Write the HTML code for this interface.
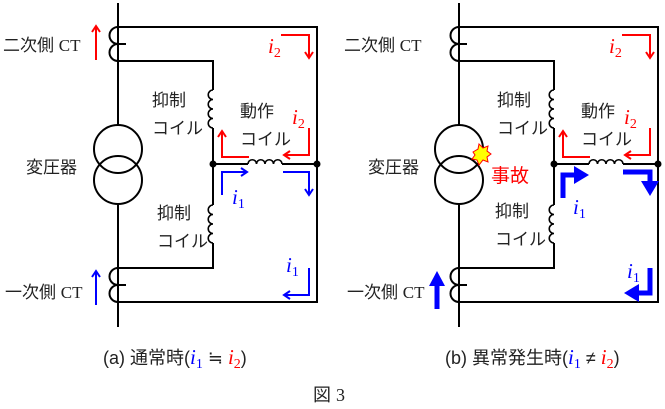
<!DOCTYPE html>
<html><head><meta charset="utf-8"><style>
html,body{margin:0;padding:0;background:#fff;width:665px;height:409px;overflow:hidden;}
svg{display:block;position:absolute;left:0;top:0;}
text{font-family:"Liberation Sans","Noto Sans CJK JP",sans-serif;font-size:17px;fill:#222;}
.i{font-family:"Liberation Serif",serif;font-style:italic;font-size:21px;}
.s{font-family:"Liberation Serif",serif;font-size:14px;font-style:normal;}
.c{font-size:18px;}
</style></head><body>
<svg width="665" height="409" viewBox="0 0 665 409" xmlns="http://www.w3.org/2000/svg">
<g fill="none" stroke="#000" stroke-width="2">
<line x1="118" y1="3" x2="118" y2="125"/>
<line x1="118" y1="203" x2="118" y2="327"/>
<circle cx="118" cy="149" r="24"/>
<circle cx="118" cy="180" r="24"/>
<path d="M118,27 H317 V302 H118"/>
<path d="M118,27 A8.5,8.5 0 0 0 118,44 A8.5,8.5 0 0 0 118,61"/>
<line x1="118" y1="44" x2="126" y2="44"/>
<path d="M118,268 A8.5,8.5 0 0 0 118,285 A8.5,8.5 0 0 0 118,302"/>
<line x1="118" y1="285" x2="126" y2="285"/>
<path d="M118,61 H213 V90 M213,128 V205 M213,243 V268 H118"/>
<path d="M213,90 a4.75,4.75 0 0 0 0,9.5 a4.75,4.75 0 0 0 0,9.5 a4.75,4.75 0 0 0 0,9.5 a4.75,4.75 0 0 0 0,9.5" stroke-width="1.6"/>
<path d="M213,205 a4.75,4.75 0 0 0 0,9.5 a4.75,4.75 0 0 0 0,9.5 a4.75,4.75 0 0 0 0,9.5 a4.75,4.75 0 0 0 0,9.5" stroke-width="1.6"/>
<path d="M213,164 H248 M282,164 H317"/>
<path d="M248,164 a4.25,4.25 0 0 1 8.5,0 a4.25,4.25 0 0 1 8.5,0 a4.25,4.25 0 0 1 8.5,0 a4.25,4.25 0 0 1 8.5,0" stroke-width="1.6"/>
<circle cx="213" cy="164" r="3.5" fill="#000" stroke="none"/>
<circle cx="317" cy="164" r="3.5" fill="#000" stroke="none"/>
</g>
<g transform="translate(341,0)" fill="none" stroke="#000" stroke-width="2">
<line x1="118" y1="3" x2="118" y2="125"/>
<line x1="118" y1="203" x2="118" y2="327"/>
<circle cx="118" cy="149" r="24"/>
<circle cx="118" cy="180" r="24"/>
<path d="M118,27 H317 V302 H118"/>
<path d="M118,27 A8.5,8.5 0 0 0 118,44 A8.5,8.5 0 0 0 118,61"/>
<line x1="118" y1="44" x2="126" y2="44"/>
<path d="M118,268 A8.5,8.5 0 0 0 118,285 A8.5,8.5 0 0 0 118,302"/>
<line x1="118" y1="285" x2="126" y2="285"/>
<path d="M118,61 H213 V90 M213,128 V205 M213,243 V268 H118"/>
<path d="M213,90 a4.75,4.75 0 0 0 0,9.5 a4.75,4.75 0 0 0 0,9.5 a4.75,4.75 0 0 0 0,9.5 a4.75,4.75 0 0 0 0,9.5" stroke-width="1.6"/>
<path d="M213,205 a4.75,4.75 0 0 0 0,9.5 a4.75,4.75 0 0 0 0,9.5 a4.75,4.75 0 0 0 0,9.5 a4.75,4.75 0 0 0 0,9.5" stroke-width="1.6"/>
<path d="M213,164 H248 M282,164 H317"/>
<path d="M248,164 a4.25,4.25 0 0 1 8.5,0 a4.25,4.25 0 0 1 8.5,0 a4.25,4.25 0 0 1 8.5,0 a4.25,4.25 0 0 1 8.5,0" stroke-width="1.6"/>
<circle cx="213" cy="164" r="3.5" fill="#000" stroke="none"/>
<circle cx="317" cy="164" r="3.5" fill="#000" stroke="none"/>
</g>
<g fill="none" stroke="#f00" stroke-width="2">
<path d="M281,35 H309 V58 M305,52 L309,58 L313,52"/>
<path d="M309,128 V155 H284 M290,151 L284,155 L290,159"/>
<path d="M249,157 H222 V131 M218,137 L222,131 L226,137"/>
<path d="M96,60 V26 M92,32 L96,26 L100,32"/>
<path d="M622,35 H650 V58 M646,52 L650,58 L654,52"/>
<path d="M650,128 V155 H625 M631,151 L625,155 L631,159"/>
<path d="M590,157 H563 V131 M559,137 L563,131 L567,137"/>
</g>
<g fill="none" stroke="#00f" stroke-width="2">
<path d="M96,305 V271 M92,277 L96,271 L100,277"/>
<path d="M222,195 V172 H247 M241,168 L247,172 L241,176"/>
<path d="M283,172 H309 V195 M305,189 L309,195 L313,189"/>
<path d="M309,268 V295 H284 M290,291 L284,295 L290,299"/>
</g>
<g fill="none" stroke="#00f" stroke-width="5">
<line x1="437" y1="309" x2="437" y2="285"/>
<path d="M563,198 V175 H575"/>
<path d="M623,172 H650 V182"/>
<path d="M650,268 V293 H638"/>
</g>
<g fill="#00f" stroke="none">
<path d="M429,286 L437,271 L445,286 Z"/>
<path d="M574,166 L589,175 L574,184 Z"/>
<path d="M641,181 L650,196 L659,181 Z"/>
<path d="M639,284 L624,293 L639,302 Z"/>
</g>
<path d="M473,152 L478,149 L479,144 L483,148 L488,146 L487,151 L491,154 L487,157 L488,162 L483,160 L479,165 L477,160 L472,159 L475,155 Z" fill="#ff0" stroke="#f00" stroke-width="1"/>
<text x="3" y="51">二次側 <tspan font-family="Liberation Serif">CT</tspan></text>
<text x="152" y="106">抑制</text><text x="152" y="134">コイル</text>
<text x="240" y="117">動作</text><text x="240" y="145">コイル</text>
<text x="26" y="173">変圧器</text>
<text x="157" y="219">抑制</text><text x="157" y="247">コイル</text>
<text x="5" y="298">一次側 <tspan font-family="Liberation Serif">CT</tspan></text>
<text class="i" x="268" y="53" style="fill:#f00">i<tspan class="s" dy="4">2</tspan></text>
<text class="i" x="292" y="124" style="fill:#f00">i<tspan class="s" dy="4">2</tspan></text>
<text class="i" x="232" y="204" style="fill:#00f">i<tspan class="s" dy="4">1</tspan></text>
<text class="i" x="286" y="272" style="fill:#00f">i<tspan class="s" dy="4">1</tspan></text>
<text x="344" y="51">二次側 <tspan font-family="Liberation Serif">CT</tspan></text>
<text x="497" y="106">抑制</text><text x="497" y="134">コイル</text>
<text x="581" y="117">動作</text><text x="581" y="145">コイル</text>
<text x="368" y="173">変圧器</text>
<text x="495" y="217">抑制</text><text x="495" y="245">コイル</text>
<text x="347" y="298">一次側 <tspan font-family="Liberation Serif">CT</tspan></text>
<text x="491" y="182" style="fill:#f00;font-size:19px">事故</text>
<text class="i" x="609" y="53" style="fill:#f00">i<tspan class="s" dy="4">2</tspan></text>
<text class="i" x="624" y="124" style="fill:#f00">i<tspan class="s" dy="4">2</tspan></text>
<text class="i" x="573" y="214" style="fill:#00f">i<tspan class="s" dy="4">1</tspan></text>
<text class="i" x="627" y="278" style="fill:#00f">i<tspan class="s" dy="4">1</tspan></text>
<text class="c" x="103" y="364">(a) 通常時(<tspan class="i" style="fill:#00f">i</tspan><tspan class="s" style="fill:#00f" dy="4">1</tspan><tspan dy="-4"> ≒ </tspan><tspan class="i" style="fill:#f00">i</tspan><tspan class="s" style="fill:#f00" dy="4">2</tspan><tspan dy="-4">)</tspan></text>
<text class="c" x="445" y="364">(b) 異常発生時(<tspan class="i" style="fill:#00f">i</tspan><tspan class="s" style="fill:#00f" dy="4">1</tspan><tspan dy="-4"> ≠ </tspan><tspan class="i" style="fill:#f00">i</tspan><tspan class="s" style="fill:#f00" dy="4">2</tspan><tspan dy="-4">)</tspan></text>
<text class="c" x="313" y="401">図 <tspan font-family="Liberation Serif">3</tspan></text>
</svg>
</body></html>
